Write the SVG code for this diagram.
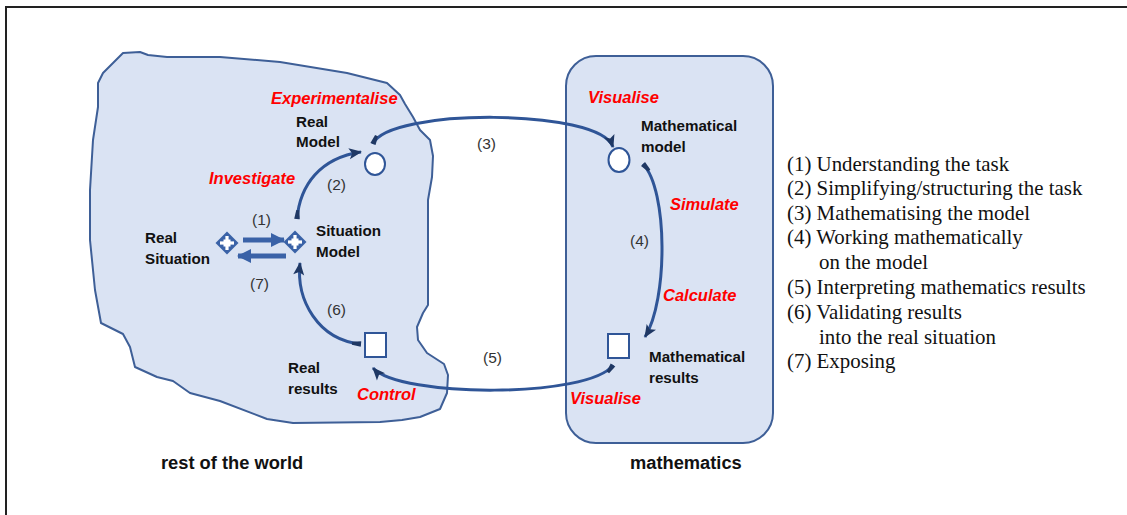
<svg xmlns="http://www.w3.org/2000/svg" width="1127" height="515" viewBox="0 0 1127 515">
<style>
.region{fill:#DAE3F3;stroke:#3E5F97;stroke-width:2;stroke-linejoin:round}
.lbl{font-family:"Liberation Sans",Arial,sans-serif;font-weight:bold;font-size:15.2px;fill:#111}
.act{font-family:"Liberation Sans",Arial,sans-serif;font-weight:bold;font-style:italic;font-size:16.5px;fill:#FF0000}
.num{font-family:"Liberation Sans",Arial,sans-serif;font-size:15.5px;fill:#333}
.big{font-family:"Liberation Sans",Arial,sans-serif;font-weight:bold;font-size:18.3px;fill:#111}
.leg{font-family:"Liberation Serif","Times New Roman",serif;font-size:20.9px;fill:#111}
.conn{fill:none;stroke:#2F5597;stroke-width:3;marker-start:url(#tail);marker-end:url(#head)}
.thick{fill:none;stroke:#3A62A7;stroke-width:5;marker-end:url(#fat)}
.node{fill:#fff;stroke:#2F5597;stroke-width:2}
</style>
<defs>
<marker id="head" markerUnits="userSpaceOnUse" markerWidth="16" markerHeight="16" viewBox="-13 -8 16 16" refX="0" refY="0" orient="auto">
<path d="M-12,-5.5 L1,0 L-12,5.5 L-9,0 Z" fill="#1F3864"/>
</marker>
<marker id="tail" markerUnits="userSpaceOnUse" markerWidth="12" markerHeight="10" viewBox="-1 -5 12 10" refX="0" refY="0" orient="auto">
<path d="M0,-2.8 L9,-1.5 L9,1.5 L0,2.8 Z" fill="#1F3864"/>
</marker>
<marker id="fat" markerUnits="userSpaceOnUse" markerWidth="16" markerHeight="16" viewBox="-14 -8 16 16" refX="0" refY="0" orient="auto">
<path d="M-13,-7 L1,0 L-13,7 Z" fill="#3A62A7"/>
</marker>
<g id="diamond">
<path d="M0,-11.5 L11.5,0 L0,11.5 L-11.5,0 Z" fill="#3A62A7"/>
<rect x="-7" y="-1.6" width="14" height="3.2" fill="#fff"/>
<rect x="-1.6" y="-7" width="3.2" height="14" fill="#fff"/>
<rect x="-3.5" y="-3.5" width="7" height="7" fill="#fff"/>
</g>
</defs>
<rect width="1127" height="515" fill="#fff"/>
<path d="M6,515 L6,7 L1127,7" fill="none" stroke="#222" stroke-width="2"/>

<g id="rest-of-world">
<path class="region" d="M123,53 L140,52 L148,55 L167,57 L220,57 L280,62 L347,73 L387,83 L400,95 L405,104 L413,117 L420,130 L430,140 L433,156 L432,177 L428,200 L428,250 L428,305 L423,313 L417,327 L418,340 L427,353 L444,364 L448,375 L447,393 L440,409 L420,417 L402,420 L380,422 L293,423 L267,419 L220,401 L190,393 L173,381 L157,377 L135,367 L130,347 L123,334 L101,323 L95,290 L90,240 L90,190 L93,140 L98,107 L98,83 L103,73 L113,63 Z"/>
<text class="big" x="161" y="469">rest of the world</text>
</g>
<g id="mathematics">
<rect class="region" x="566" y="56" width="207" height="387" rx="30" ry="30"/>
<text class="big" x="630" y="469">mathematics</text>
</g>

<g id="real-situation">
<use href="#diamond" x="227" y="243"/>
<text class="lbl" x="145" y="243">Real</text>
<text class="lbl" x="145" y="264">Situation</text>
</g>
<g id="situation-model">
<use href="#diamond" x="295" y="242"/>
<text class="lbl" x="316" y="236">Situation</text>
<text class="lbl" x="316" y="257">Model</text>
</g>
<g id="real-model">
<ellipse class="node" cx="375" cy="164" rx="10" ry="11"/>
<text class="lbl" x="296" y="127">Real</text>
<text class="lbl" x="296" y="147">Model</text>
</g>
<g id="real-results">
<rect class="node" x="365" y="333" width="21" height="24"/>
<text class="lbl" x="288" y="373">Real</text>
<text class="lbl" x="288" y="394">results</text>
</g>
<g id="math-model">
<ellipse class="node" cx="619" cy="160" rx="10.5" ry="12"/>
<text class="lbl" x="641" y="131">Mathematical</text>
<text class="lbl" x="641" y="152">model</text>
</g>
<g id="math-results">
<rect class="node" x="608" y="334" width="21" height="24"/>
<text class="lbl" x="649" y="362">Mathematical</text>
<text class="lbl" x="649" y="383">results</text>
</g>

<g id="connectors">
<path class="thick" d="M243,240 L284,240"/>
<path class="thick" d="M286,256 L238,256"/>
<path class="conn" d="M297,219 C300,185 320,158 361,152"/>
<path class="conn" d="M373,144 C388,108 600,108 613,147"/>
<path class="conn" d="M643,164 C668,190 668,300 645,337"/>
<path class="conn" d="M613,365 C590,398 400,398 373,368"/>
<path class="conn" d="M361,344 C318,340 296,300 300,263"/>
</g>

<g id="labels">
<text class="act" x="271" y="104">Experimentalise</text>
<text class="act" x="209" y="184">Investigate</text>
<text class="act" x="357" y="400">Control</text>
<text class="act" x="588" y="103">Visualise</text>
<text class="act" x="670" y="210">Simulate</text>
<text class="act" x="663" y="301">Calculate</text>
<text class="act" x="570" y="404">Visualise</text>
<text class="num" x="477" y="149">(3)</text>
<text class="num" x="327" y="190">(2)</text>
<text class="num" x="252" y="225">(1)</text>
<text class="num" x="250" y="289">(7)</text>
<text class="num" x="327" y="315">(6)</text>
<text class="num" x="483" y="363">(5)</text>
<text class="num" x="630" y="246">(4)</text>
</g>

<g id="legend">
<text class="leg" x="787" y="170.5">(1) Understanding the task</text>
<text class="leg" x="787" y="195">(2) Simplifying/structuring the task</text>
<text class="leg" x="787" y="219.5">(3) Mathematising the model</text>
<text class="leg" x="787" y="244">(4) Working mathematically</text>
<text class="leg" x="819" y="269">on the model</text>
<text class="leg" x="787" y="294">(5) Interpreting mathematics results</text>
<text class="leg" x="787" y="319">(6) Validating results</text>
<text class="leg" x="819" y="343.5">into the real situation</text>
<text class="leg" x="787" y="368">(7) Exposing</text>
</g>
</svg>
